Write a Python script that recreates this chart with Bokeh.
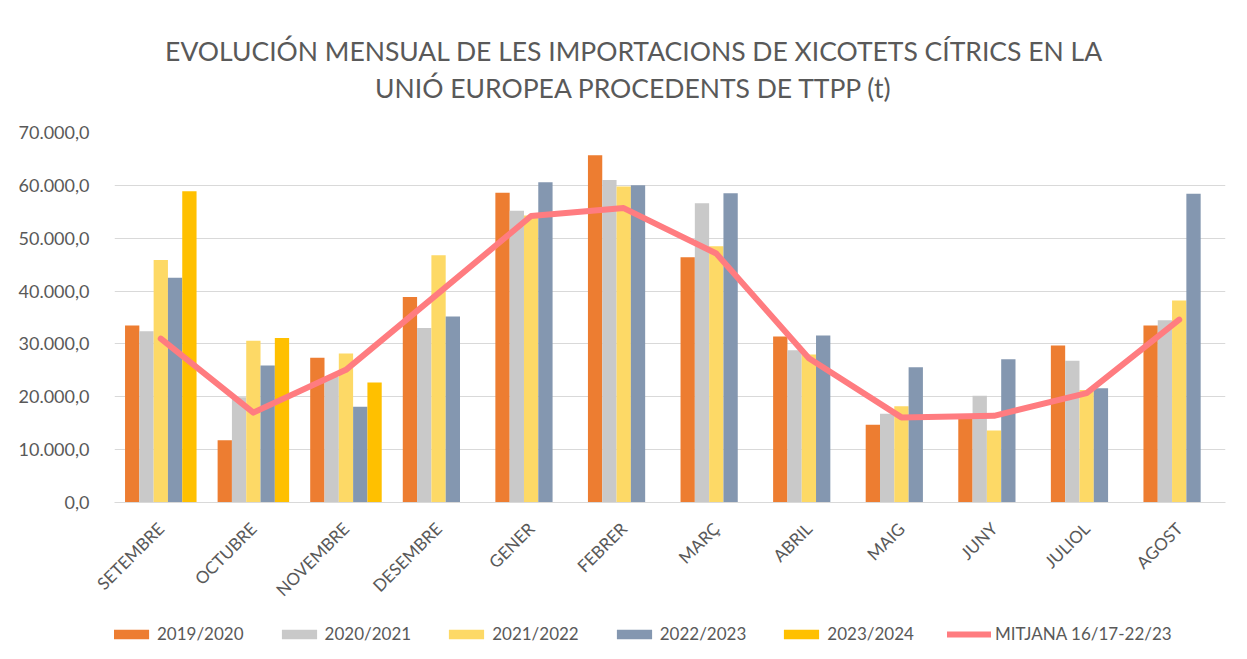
import math
from bokeh.plotting import figure
from bokeh.layouts import column
from bokeh.models import (ColumnDataSource, FactorRange, Range1d, Label, Legend,
                          LegendItem, FixedTicker)
from bokeh.transform import dodge
from bokeh.embed import file_html
from bokeh.resources import INLINE

# ---------------- data ----------------
months = ["SETEMBRE", "OCTUBRE", "NOVEMBRE", "DESEMBRE", "GENER", "FEBRER",
          "MARÇ", "ABRIL", "MAIG", "JUNY", "JULIOL", "AGOST"]
s2019_2020 = [33500, 11800, 27400, 38900, 58600, 65700, 46400, 31400, 14700, 16200, 29700, 33500]
s2020_2021 = [32400, 19900, 23800, 33000, 55200, 61000, 56600, 28800, 16800, 20200, 26800, 34500]
s2021_2022 = [45900, 30600, 28200, 46800, 54300, 59800, 48500, 28000, 18200, 13600, 21300, 38200]
s2022_2023 = [42500, 25900, 18100, 35200, 60600, 60000, 58500, 31600, 25600, 27100, 21600, 58400]
months_2023_2024 = ["SETEMBRE", "OCTUBRE", "NOVEMBRE"]
s2023_2024 = [58900, 31100, 22700]
mitjana = [31000, 17000, 25100, 39600, 54200, 55700, 47100, 27300, 16100, 16400, 20700, 34600]

series_labels = ["2019/2020", "2020/2021", "2021/2022", "2022/2023", "2023/2024"]
line_label = "MITJANA 16/17-22/23"
y_ticks = [0, 10000, 20000, 30000, 40000, 50000, 60000, 70000]
title_line1 = "EVOLUCIÓN MENSUAL DE LES IMPORTACIONS DE XICOTETS CÍTRICS EN LA"
title_line2 = "UNIÓ EUROPEA PROCEDENTS DE TTPP (t)"

# ---------------- style ----------------
colors = ["#ED7D31", "#C9C9C9", "#FDD966", "#8497B0", "#FFC000"]
line_color = "#FF7C80"
text_color = "#595959"
grid_color = "#D9D9D9"
FONT = "Lato"
W = 1246
FRAME_LEFT, FRAME_RIGHT = 114, 21
TITLE_H = 120
LEG_H = 46
MAIN_H = 658 - TITLE_H - LEG_H

# ---------------- title strip ----------------
# ranges chosen so that one unit = one pixel (x from the plot frame's left edge,
# y from the top of the strip)
tf = figure(width=W, height=TITLE_H, x_range=Range1d(0, W - FRAME_LEFT - FRAME_RIGHT),
            y_range=Range1d(TITLE_H, 0), output_backend="svg", toolbar_location=None,
            min_border_left=FRAME_LEFT, min_border_right=FRAME_RIGHT,
            min_border_top=0, min_border_bottom=0)
tf.axis.visible = False
tf.grid.visible = False
tf.outline_line_color = None
title_center = 633.5 - FRAME_LEFT
for txt, base in ((title_line1, 50), (title_line2, 87)):
    tf.add_layout(Label(x=title_center, y=base, text=txt, text_align="center",
                        text_baseline="alphabetic", text_font=FONT,
                        text_font_size="26.5px", text_color=text_color))

# ---------------- main chart ----------------
src = ColumnDataSource(dict(month=months, a=s2019_2020, b=s2020_2021,
                            c=s2021_2022, d=s2022_2023, m=mitjana))
src5 = ColumnDataSource(dict(month=months_2023_2024, e=s2023_2024))

p = figure(x_range=FactorRange(*months, range_padding=0),
           y_range=Range1d(0, 70000),
           width=W, height=MAIN_H, output_backend="svg", toolbar_location=None,
           min_border_left=FRAME_LEFT, min_border_right=FRAME_RIGHT,
           min_border_top=132 - TITLE_H, min_border_bottom=MAIN_H - (132 - TITLE_H) - 370)

bw = 0.1545
keys = ["a", "b", "c", "d"]
for i, k in enumerate(keys):
    p.vbar(x=dodge("month", (i - 2) * bw, range=p.x_range), top=k, width=bw,
           source=src, fill_color=colors[i], line_color=None)
p.vbar(x=dodge("month", 2 * bw, range=p.x_range), top="e", width=bw,
       source=src5, fill_color=colors[4], line_color=None)
p.line(x="month", y="m", source=src, line_color=line_color, line_width=6,
       line_cap="round", line_join="round")

p.xaxis.major_label_orientation = math.pi / 4
p.xaxis.major_label_text_font = FONT
p.xaxis.major_label_text_font_size = "17px"
p.xaxis.major_label_text_color = text_color
p.xaxis.major_label_standoff = 17
p.xaxis.axis_line_color = grid_color
p.xaxis.major_tick_line_color = None
p.xaxis.minor_tick_line_color = None

def fmt(v):
    s = f"{v:,.1f}"
    return s.replace(",", "X").replace(".", ",").replace("X", ".")

p.yaxis.ticker = FixedTicker(ticks=y_ticks)
p.yaxis.major_label_overrides = {t: fmt(t) for t in y_ticks}
p.yaxis.major_label_text_font = FONT
p.yaxis.major_label_text_font_size = "18px"
p.yaxis.major_label_text_color = text_color
p.yaxis.major_label_standoff = 19
p.yaxis.axis_line_color = None
p.yaxis.major_tick_line_color = None
p.yaxis.minor_tick_line_color = None

p.xgrid.grid_line_color = None
p.ygrid.grid_line_color = grid_color
p.ygrid.grid_line_width = 1
p.outline_line_color = None

# ---------------- legend strip (separate figure, same styles) ----------------
lg = figure(width=W, height=LEG_H, x_range=Range1d(0, 1), y_range=Range1d(0, 1),
            output_backend="svg", toolbar_location=None,
            min_border_left=FRAME_LEFT, min_border_right=FRAME_RIGHT,
            min_border_top=0, min_border_bottom=0)
lg.axis.visible = False
lg.grid.visible = False
lg.outline_line_color = None
leg_renderers = []
for c in colors:
    # single off-range placeholder so that the legend swatch is drawn
    leg_renderers.append(lg.vbar(x=[-5], top=[0], width=0.1, fill_color=c, line_color=None))
leg_line = lg.line(x=[-5, -4], y=[0, 0], line_color=line_color, line_width=6,
                   line_cap="round")
items = [LegendItem(label=lab, renderers=[r]) for lab, r in zip(series_labels, leg_renderers)]
items.append(LegendItem(label=line_label, renderers=[leg_line]))
legend = Legend(items=items, orientation="horizontal", location=(-5, 14),
                glyph_width=44, glyph_height=12, label_standoff=4, spacing=33,
                padding=0, margin=0, border_line_color=None, background_fill_alpha=0,
                label_text_font=FONT, label_text_font_size="17px",
                label_text_color=text_color)
lg.add_layout(legend, "center")

layout = column(tf, p, lg, spacing=0)
open("out.html", "w").write(file_html(layout, INLINE))
